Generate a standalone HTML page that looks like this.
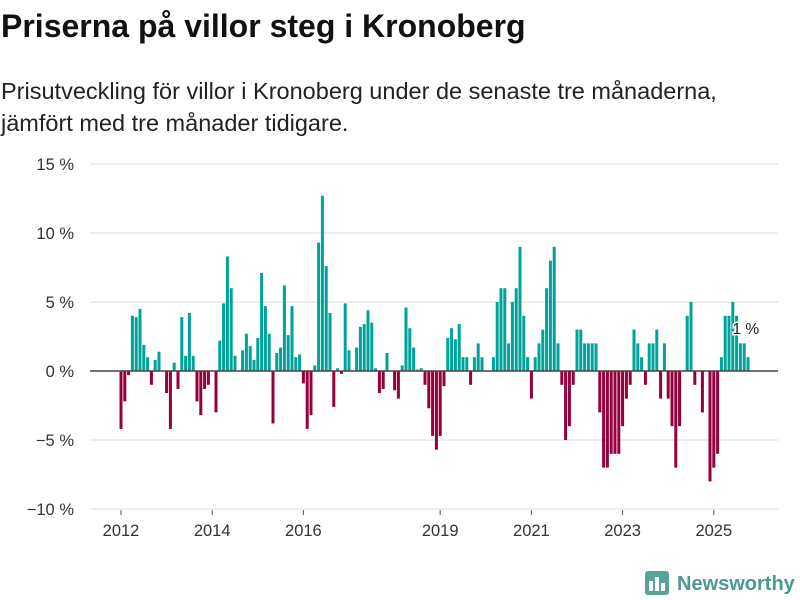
<!DOCTYPE html>
<html><head><meta charset="utf-8"><style>
body{margin:0;background:#fff;width:800px;height:600px;overflow:hidden;font-family:"Liberation Sans",sans-serif;color:#111}
#title{position:absolute;left:1px;top:8px;font-size:32px;font-weight:bold;margin:0;white-space:nowrap}
#sub{position:absolute;left:1px;top:75px;font-size:23.5px;line-height:32px;color:#222;white-space:nowrap}
svg{position:absolute;left:0;top:0}
</style></head><body>
<h1 id="title">Priserna på villor steg i Kronoberg</h1>
<div id="sub">Prisutveckling för villor i Kronoberg under de senaste tre månaderna,<br>jämfört med tre månader tidigare.</div>
<svg id="chart" width="800" height="600"></svg>
<script>
const startYear = 2012;
const values = [-4.2,-2.2,-0.3,4.0,3.9,4.5,1.9,1.0,-1.0,0.8,1.4,null,
-1.6,-4.2,0.6,-1.3,3.9,1.1,4.2,1.1,-2.2,-3.2,-1.3,-1.0,
null,-3.0,2.2,4.9,8.3,6.0,1.1,null,1.5,2.7,1.8,0.8,
2.4,7.1,4.7,2.7,-3.8,1.3,1.7,6.2,2.6,4.7,1.0,1.2,
-0.9,-4.2,-3.2,0.4,9.3,12.7,7.6,4.2,-2.6,0.2,-0.2,4.9,
1.5,null,1.7,3.2,3.4,4.4,3.5,0.2,-1.6,-1.3,1.3,null,
-1.4,-2.0,0.4,4.6,3.1,1.7,0.1,0.2,-1.0,-2.7,-4.7,-5.7,
-4.7,-1.1,2.4,3.1,2.3,3.4,1.0,1.0,-1.0,1.0,2.0,1.0,
null,null,1.0,5.0,6.0,6.0,2.0,5.0,6.0,9.0,4.0,1.0,
-2.0,1.0,2.0,3.0,6.0,8.0,9.0,2.0,-1.0,-5.0,-4.0,-1.0,
3.0,3.0,2.0,2.0,2.0,2.0,-3.0,-7.0,-7.0,-6.0,-6.0,-6.0,
-4.0,-2.0,-1.0,3.0,2.0,1.0,-1.0,2.0,2.0,3.0,-2.0,2.0,
-2.0,-4.0,-7.0,-4.0,null,4.0,5.0,-1.0,null,-3.0,null,-8.0,
-7.0,-6.0,1.0,4.0,4.0,5.0,4.0,2.0,2.0,1.0];
const yTicks = [15,10,5,0,-5,-10];
const yTickLabels = ["15 %","10 %","5 %","0 %","−5 %","−10 %"];
const xTickYears = [2012,2014,2016,2019,2021,2023,2025];
const lastLabel = "1 %";

const NS="http://www.w3.org/2000/svg";
const svg=document.getElementById('chart');
const y=v=>371-v*13.8;
const x=i=>119.5+3.8*i;
const xYear=yr=>121+45.6*(yr-startYear);
function mk(t,a){const e=document.createElementNS(NS,t);for(const k in a)e.setAttribute(k,a[k]);svg.appendChild(e);return e;}
yTicks.forEach((t,k)=>{
  if(t!==0){const g=mk('line',{x1:90,x2:778,y1:y(t),y2:y(t),stroke:'#e3e3e3','stroke-width':1.3});
  
  }
  const l=mk('text',{x:74,y:y(t)+6,'text-anchor':'end','font-size':16.5,fill:'#333','font-family':'Liberation Sans, sans-serif'});
  l.textContent=yTickLabels[k];
  
  
});
values.forEach((v,i)=>{
  if(v===null)return;
  const top=v>=0?y(v):y(0), h=Math.abs(y(v)-y(0));
  const b=mk('rect',{x:x(i),y:top,width:3,height:Math.max(h,0.5),fill:v>=0?'#00a29a':'#96003c'});
  
  
});
const z=mk('line',{x1:90,x2:778,y1:y(0),y2:y(0),stroke:'#444','stroke-width':1.6});


xTickYears.forEach(yr=>{
  const tk=mk('line',{x1:xYear(yr),x2:xYear(yr),y1:510,y2:515,stroke:'#555'});
  
  
  const l=mk('text',{x:xYear(yr),y:536,'text-anchor':'middle','font-size':16.5,fill:'#333','font-family':'Liberation Sans, sans-serif'});
  l.textContent=yr;
  
  
});
const li=values.length-1;
const lab=mk('text',{x:x(li)-14,y:y(values[li])-23,'font-size':15.5,fill:'#222',stroke:'#fff','stroke-width':3,'paint-order':'stroke','font-family':'Liberation Sans, sans-serif'});
lab.textContent=lastLabel;


// logo
const g=mk('g',{});


const ic=document.createElementNS(NS,'rect');
[['x',645],['y',571],['width',24],['height',24],['rx',3],['fill','#5aa39b']].forEach(a=>ic.setAttribute(a[0],a[1]));g.appendChild(ic);
[[649,10],[655,14],[661,8]].forEach(p=>{const r=document.createElementNS(NS,'rect');r.setAttribute('x',p[0]);r.setAttribute('y',591-p[1]);r.setAttribute('width',4);r.setAttribute('height',p[1]);r.setAttribute('fill','#fff');g.appendChild(r);});
const lt=document.createElementNS(NS,'text');
lt.setAttribute('x',677);lt.setAttribute('y',590);lt.setAttribute('font-size',20);lt.setAttribute('font-weight','bold');lt.setAttribute('fill','#4a9a92');lt.setAttribute('font-family','Liberation Sans, sans-serif');
lt.textContent='Newsworthy';g.appendChild(lt);
</script>
</body></html>
